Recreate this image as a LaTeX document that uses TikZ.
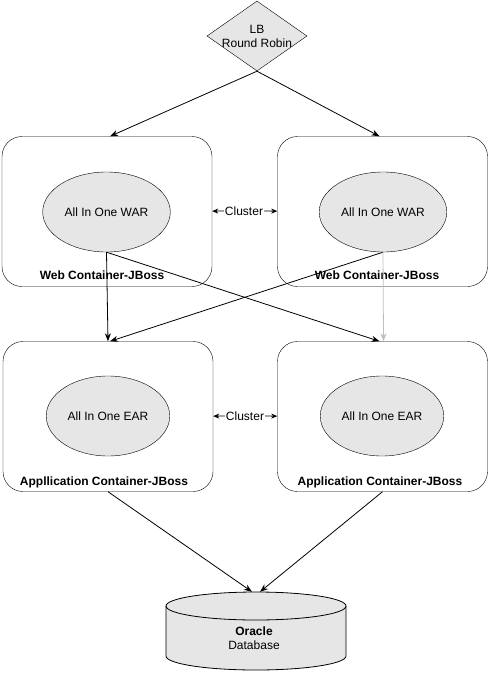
\documentclass[tikz,border=0pt]{standalone}
\usepackage{fontspec}
\setmainfont{Liberation Sans}
\usetikzlibrary{shapes}
\usetikzlibrary{shapes.geometric}
\usetikzlibrary{positioning}
\usetikzlibrary{arrows.meta}
\definecolor{shade}{HTML}{E6E6E6}
\tikzset{
    lbnode/.style = {diamond, draw=black, fill=shade, inner sep=0pt, minimum width=100pt, minimum height=70pt},
    boxnode/.style = {rectangle, rounded corners=20pt, draw=black, minimum width=210pt, minimum height=150pt},
    ellnode/.style = {ellipse, draw=black, fill=shade, minimum width=121pt, minimum height=80pt, font=\fontsize{12}{14}\selectfont},
    dbnode/.style = {rectangle, inner sep=0pt, minimum width=180pt, minimum height=78pt},
    dbshape/.style = {draw=black, fill=shade, line width=0.8pt},
    txtnode/.style = {align=center, inner sep=1pt, font=\fontsize{12}{14}\selectfont},
    boldtxt/.style = {inner sep=0pt, font=\fontsize{12}{14}\selectfont\bfseries},
    edgen/.style = {-{Stealth[length=8pt,width=6pt]}, black, line width=0.8pt},
    edgeg/.style = {-{Stealth[length=8pt,width=6pt]}, black!25, line width=0.8pt},
    edgec/.style = {-{Stealth[length=6pt,width=5pt]}, black, line width=0.8pt}
}

\begin{document}
\begin{tikzpicture}[x=1pt,y=-1pt]
\useasboundingbox (0,0) rectangle (492,674);
\node[lbnode, label={[txtnode]center:LB\\Round Robin}] at (257,36) (lb) {};
% web tier
\node[boxnode] at (107,211.5) (webL) {};
\node[boxnode] at (382.5,211.5) (webR) {};
\node[ellnode] at (106.5,212) (warL) {All In One WAR};
\node[ellnode] at (383,212) (warR) {All In One WAR};
\node[boldtxt] at (102,275) (webLt) {Web Container-JBoss};
\node[boldtxt] at (377,275) (webRt) {Web Container-JBoss};
\node[txtnode] at (244,211) (clW) {Cluster};
% application tier
\node[boxnode] at (108,416.5) (appL) {};
\node[boxnode] at (382.5,416.5) (appR) {};
\node[ellnode] at (108,416) (earL) {All In One EAR};
\node[ellnode] at (382,416) (earR) {All In One EAR};
\node[boldtxt] at (104,482) (appLt) {Appllication Container-JBoss};
\node[boldtxt] at (380,482) (appRt) {Application Container-JBoss};
\node[txtnode] at (245,416) (clA) {Cluster};
% database
\node[dbnode] at (256,631) (db) {};
\draw[dbshape] (166,606) -- (166,656) arc[start angle=180, end angle=0, x radius=90, y radius=14]
    -- (346,606) arc[start angle=0, end angle=-180, x radius=90, y radius=14] -- cycle;
\draw[dbshape, fill=none] (166,606) arc[start angle=180, end angle=0, x radius=90, y radius=14];
\node[txtnode] at (254,638) (dbt) {\textbf{Oracle}\\Database};
% connectors
\draw[edgen] (lb.south) -- ([xshift=3pt]webL.north);
\draw[edgen] (lb.south) -- ([xshift=-3pt]webR.north);
\draw[edgec] (clW) -- (webL);
\draw[edgec] (clW) -- (webR);
\draw[edgec] (clA) -- (appL);
\draw[edgec] (clA) -- (appR);
\draw[edgen] (warL.south) -- ([xshift=0pt]appL.north);
\draw[edgen] (warL.south) -- ([xshift=-3pt]appR.north);
\draw[edgen] (warR.south) -- ([xshift=2pt]appL.north);
\draw[edgeg] (warR.south) -- ([xshift=1pt]appR.north);
\draw[edgen] (appL.south) -- ([xshift=-4pt]db.north);
\draw[edgen] (appR.south) -- ([xshift=4pt]db.north);
\end{tikzpicture}
\end{document}
